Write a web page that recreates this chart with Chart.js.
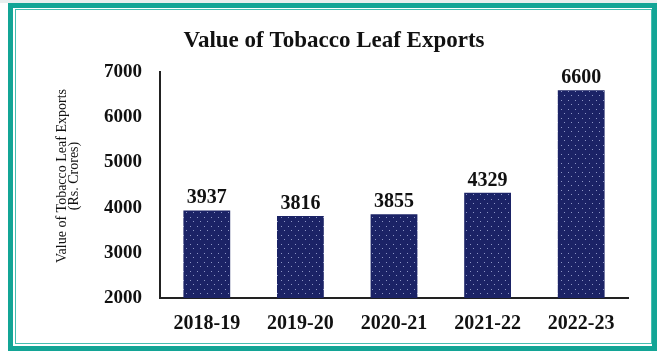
<!DOCTYPE html>
<html>
<head>
<meta charset="utf-8">
<script src="https://cdn.jsdelivr.net/npm/chart.js@4/dist/chart.umd.min.js"></script>
<style>
  html, body { margin: 0; padding: 0; background: #fff; }
  #wrap { position: relative; width: 657px; height: 351px; overflow: hidden; }
  #topband { position: absolute; left: 0; top: 0; width: 657px; height: 3px; background: #e9eeee; }
  #outer { position: absolute; left: 8px; top: 3px; width: 649px; height: 348px; box-sizing: border-box; border: 5px solid #13a596; pointer-events: none; }
  #inner { position: absolute; left: 15px; top: 9px; width: 637px; height: 335px; box-sizing: border-box; border: 1.5px solid #45bfb2; pointer-events: none; }
  canvas { position: absolute; left: 0; top: 0; }
</style>
</head>
<body>
<div id="wrap">
  <div id="topband"></div>
  <canvas id="c" width="657" height="351"></canvas>
  <div id="outer"></div>
  <div id="inner"></div>
</div>
<script>
const categories = ["2018-19", "2019-20", "2020-21", "2021-22", "2022-23"];
const exportValues = [3937, 3816, 3855, 4329, 6600];
const yTicks = [2000, 3000, 4000, 5000, 6000, 7000];
const chartTitle = "Value of Tobacco Leaf Exports";
const yTitleLines = ["Value of Tobacco Leaf Exports", "(Rs. Crores)"];

const SERIF = "'Liberation Serif', 'Times New Roman', serif";

// dotted navy pattern fill
function makePattern() {
  const p = document.createElement('canvas');
  p.width = 7; p.height = 9;
  const g = p.getContext('2d');
  g.fillStyle = '#1b2366';
  g.fillRect(0, 0, 7, 9);
  g.fillStyle = '#8d96c4';
  g.fillRect(1, 1, 1, 1);
  g.fillRect(4, 5, 1, 1);
  return document.getElementById('c').getContext('2d').createPattern(p, 'repeat');
}

const valueLabels = {
  id: 'valueLabels',
  afterDatasetsDraw(chart) {
    const ctx = chart.ctx;
    const meta = chart.getDatasetMeta(0);
    ctx.save();
    ctx.font = "bold 20px " + SERIF;
    ctx.fillStyle = '#111';
    ctx.textAlign = 'center';
    ctx.textBaseline = 'alphabetic';
    meta.data.forEach((bar, i) => {
      ctx.fillText(String(chart.data.datasets[0].data[i]), bar.x, bar.y - 7);
    });
    ctx.restore();
  }
};

const yTitle = {
  id: 'yTitle',
  afterDraw(chart) {
    const ctx = chart.ctx;
    ctx.save();
    ctx.font = "14px " + SERIF;
    ctx.fillStyle = '#111';
    ctx.textAlign = 'center';
    ctx.textBaseline = 'middle';
    const cy = 176;
    yTitleLines.forEach((line, i) => {
      ctx.save();
      ctx.translate(62 + i * 12.5, cy);
      ctx.rotate(-Math.PI / 2);
      ctx.fillText(line, 0, 0);
      ctx.restore();
    });
    ctx.restore();
  }
};

new Chart(document.getElementById('c'), {
  type: 'bar',
  data: {
    labels: categories,
    datasets: [{
      data: exportValues,
      backgroundColor: makePattern(),
      borderWidth: 0,
      barPercentage: 0.5,
      categoryPercentage: 1.0
    }]
  },
  options: {
    responsive: false,
    animation: false,
    events: [],
    layout: { padding: { left: 40, right: 29, top: 0, bottom: 15 } },
    plugins: {
      legend: { display: false },
      tooltip: { enabled: false },
      title: {
        display: true,
        text: chartTitle,
        color: '#111',
        font: { family: SERIF, size: 23, weight: 'bold', lineHeight: 1.2 },
        padding: { top: 27, bottom: 17.5 }
      }
    },
    scales: {
      x: {
        afterFit(scale) { scale.height = 38; },
        grid: { display: false, drawTicks: false },
        border: { display: true, color: '#222', width: 2 },
        ticks: {
          color: '#111',
          padding: 14,
          font: { family: SERIF, size: 20, weight: 'bold' }
        }
      },
      y: {
        min: yTicks[0],
        max: yTicks[yTicks.length - 1],
        afterBuildTicks(scale) { scale.ticks = yTicks.map(v => ({ value: v })); },
        afterFit(scale) { scale.width = 120; },
        grid: { display: false, drawTicks: false },
        border: { display: true, color: '#222', width: 2 },
        ticks: {
          color: '#111',
          padding: 18,
          callback: (v) => String(v),
          font: { family: SERIF, size: 19, weight: 'bold' }
        }
      }
    }
  },
  plugins: [valueLabels, yTitle]
});
</script>
</body>
</html>
